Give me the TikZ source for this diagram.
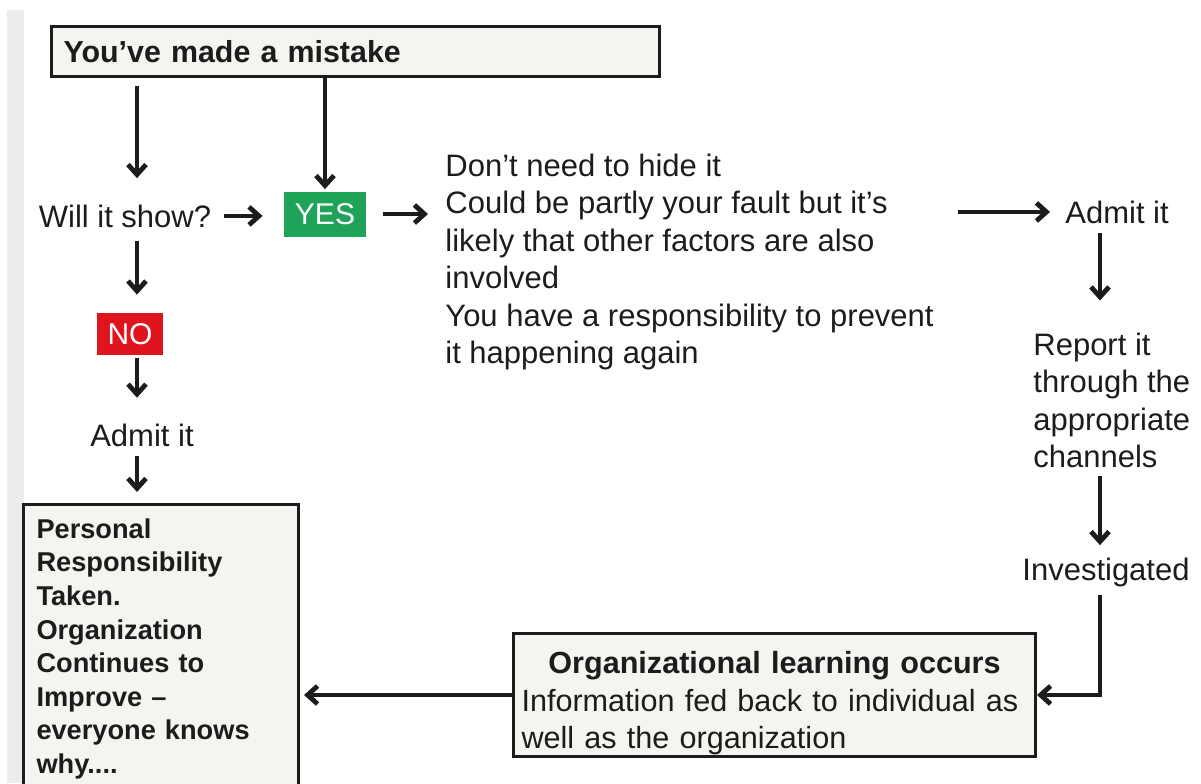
\documentclass[tikz,border=0pt]{standalone}
\usepackage{fontspec}
\setmainfont{Liberation Sans}
\usetikzlibrary{arrows.meta}
\definecolor{boxfill}{RGB}{245,244,240}
\definecolor{yesgreen}{RGB}{30,163,88}
\definecolor{nored}{RGB}{224,20,30}
\definecolor{ink}{RGB}{28,28,28}
\definecolor{strip}{RGB}{236,236,236}

\begin{document}
\begin{tikzpicture}[x=0.5pt, y=-0.5pt, every node/.style={text=ink},
		lbl/.style={inner sep=0pt, font=\fontsize{15.5}{18.75}\selectfont},
		txt/.style={lbl, align=left, anchor=north west},
		box/.style={draw=ink, line width=1.5pt, fill=boxfill},
		flag/.style={text=white, inner sep=0pt, font=\fontsize{15}{18}\selectfont},
		arr/.style={draw=ink, line width=1.8pt, -{Straight Barb[length=5pt,width=9pt,line width=2.4pt]}}]
		\useasboundingbox (0,0) rectangle (1201,783);
		\fill[strip] (7,10) rectangle (24,783);
		\coordinate (col) at (137,0);
		\coordinate (rcol) at (1100,0);

		\node[box, anchor=north west, minimum width=304pt, minimum height=25pt, inner xsep=6pt, text width=292pt, align=left, font=\fontsize{15.2}{18}\selectfont\bfseries] (mistake) at (50,25) {You’ve made a mistake};
		\node[lbl, anchor=base] (show) at (125,227) {Will it show?};
		\node[flag, fill=yesgreen, minimum width=41pt, minimum height=22.5pt] (yes) at (325,214) {YES};
		\node[flag, fill=nored, minimum width=33pt, minimum height=21pt] (no) at (130,334) {NO};
		\node[lbl, anchor=base] (admitL) at (142,446) {Admit it};
		\node[txt] (hint) at (445,153.5) {Don’t need to hide it\\Could be partly your fault but it’s\\likely that other factors are also\\involved\\You have a responsibility to prevent\\it happening again};
		\node[lbl, anchor=base west] (admitR) at (1065,223) {Admit it};
		\node[txt] (report) at (1033,332.5) {Report it\\through the\\appropriate\\channels};
		\node[lbl, anchor=base] (inv) at (1106,580) {Investigated};
		\node[box, anchor=north west, minimum width=261pt, minimum height=61.5pt, inner xsep=4pt, inner ysep=0pt, text width=253pt, align=left, font=\fontsize{15.3}{18.75}\selectfont] (org) at (512,632) {{\centering\bfseries\rule{0pt}{19.5pt}Organizational learning occurs\par}Information fed back to individual as\\well as the organization};
		\node[box, anchor=north west, text width=124.5pt, inner xsep=6.5pt, inner ysep=7pt, align=left, font=\fontsize{13.6}{16.8}\selectfont\bfseries] (personal) at (22,503) {Personal\\Responsibility\\Taken.\\Organization\\Continues to\\Improve –\\everyone knows\\why....};

		\draw[arr, shorten <=4pt, shorten >=13pt] (mistake.south -| col) -- (show.north -| col);
		\draw[arr, shorten >=1pt] (mistake.south -| yes.north) -- (yes.north);
		\draw[arr, shorten <=6pt, shorten >=10.5pt] (show.east) -- (show.east -| yes.west);
		\draw[arr, shorten <=8.5pt, shorten >=8.5pt] (yes.east) -- (yes.east -| hint.west);
		\draw[arr, shorten <=12pt, shorten >=7.5pt] (admitR.west -| hint.east) -- (admitR.west);
		\draw[arr, shorten <=4.5pt, shorten >=16pt] (admitR.south -| rcol) -- (report.north -| rcol);
		\draw[arr, shorten <=3.5pt, shorten >=6pt] (report.south -| rcol) -- (inv.north -| rcol);
		\draw[arr, shorten <=4pt] (inv.south -| rcol) |- (org.east);
		\draw[arr, shorten >=2pt] (org.west) -- (org.west -| personal.east);
		\draw[arr, shorten <=6.5pt, shorten >=9pt] (show.south -| col) -- (no.north -| col);
		\draw[arr, shorten <=1.5pt, shorten >=12.7pt] (no.south -| col) -- (admitL.north -| col);
		\draw[arr, shorten <=4.5pt, shorten >=5.5pt] (admitL.south -| col) -- (personal.north -| col);
	\end{tikzpicture}
\end{document}
